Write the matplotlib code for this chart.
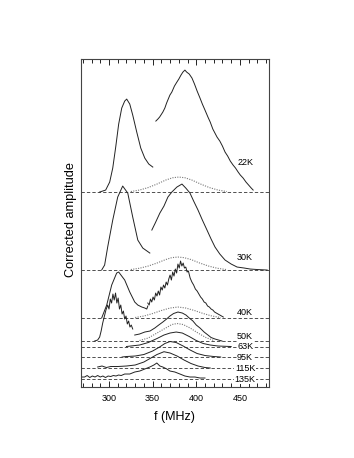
import numpy as np
import matplotlib
matplotlib.use("Agg")
import matplotlib.pyplot as plt

plt.rcParams['font.family'] = ['Liberation Sans', 'DejaVu Sans']

# temperature labels and baseline offsets (arbitrary units)
temps = ['22K', '30K', '40K', '50K', '63K', '95K', '115K', '135K']
offsets = [195, 117, 69, 46, 40.5, 30, 19, 8]

# 22K
f22a = [289.3, 296.2, 300.8, 304.3, 307.7, 311.1, 314.6, 318, 320.3, 323.8, 327.2, 331.8, 336.4, 341, 345.6, 350.2]
h22a = [0, 2, 10, 24, 45, 68, 84, 91, 93, 88, 77, 60, 44, 34, 28, 25]
f22b = [353.7, 356, 358, 361.7, 364, 366, 369.8, 372, 375, 377.8, 380, 382.5, 384.7, 387, 389, 392, 395.1, 398,
        401, 404.3, 407, 410, 413.4, 416, 419, 423.8, 427, 430, 433, 436, 439, 442.2, 445, 448, 450.5, 453.7,
        457, 460, 463, 465.2]
h22b = [71, 73, 75, 80, 84, 89, 97, 100, 106, 110, 113, 117, 120, 122, 120, 118, 114, 108, 101, 94, 88, 82,
        75, 70, 63, 55, 51, 46, 40, 36, 31, 27, 24, 20, 17, 14, 10, 7, 4, 2]
f22d = [325, 335, 345, 355, 365, 373, 380, 387, 395, 405, 415, 425, 435]
h22d = [0.5, 2, 4.5, 8, 12, 14.3, 15, 14.3, 12, 8, 4.5, 2, 0.5]

# 30K
f30a = [291.6, 295, 298.5, 304.3, 310, 315.7, 321.5, 327.2, 333, 338.7, 346.8]
h30a = [0, 5, 23, 50, 73, 84, 77, 53, 30, 22, 17]
f30b = [349.1, 353, 358.3, 363, 367.5, 372, 377.8, 383.6, 388, 392.8, 397, 402, 407, 412.3, 417, 421.5,
        427, 433, 440, 446.8, 455, 461.8, 470, 481.3]
h30b = [40, 47, 57, 64, 73, 78, 83, 86, 82, 77, 69, 60, 50, 40, 31, 23, 16, 10, 6, 3, 2, 1, 0.5, 0]
f30d = [325, 335, 345, 355, 365, 372, 379, 386, 394, 404, 414, 424, 434]
h30d = [0.5, 1.8, 4, 7, 10.5, 12.4, 13, 12.4, 10.5, 7, 4, 1.8, 0.5]

# 40K
f40a = [291.6, 297.4, 303.1, 308.8, 311.1, 318, 323.8, 329.5, 333, 337.6, 341, 343.3, 344.5]
h40a = [0, 13, 33, 45, 46, 38, 26, 16, 13, 11, 10, 9, 12]
f40b = [344.5, 346, 347.5, 349, 350.5, 352, 353.5, 355, 356.5, 358, 359.5, 361, 362.5, 364, 365.5, 367,
        368.5, 370, 371.5, 373, 374.5, 376, 377.5, 379, 380.5, 382, 383.5, 385, 386.5, 388, 389.5, 391, 393,
        395, 397, 399, 401, 403, 405, 407, 409, 411, 413, 415, 417, 419, 421, 423, 425, 427, 429, 431]
h40b = [15, 13, 19, 16, 21, 18, 25, 22, 27, 23, 31, 28, 33, 30, 36, 33, 39, 43, 38, 46, 42, 49, 45, 54, 50,
        57, 52, 55, 50, 51, 46, 47, 40, 36, 33, 29, 27, 24, 21, 19, 16, 15, 12, 11, 9, 8, 6, 5, 4, 3, 2, 1]
f40d = [330, 340, 350, 360, 370, 379, 388, 398, 408, 418, 428]
h40d = [0.5, 2, 4.5, 7.5, 10, 11, 10, 7.5, 4.5, 2, 0.5]

# 50K
f50a = [283.6, 287, 289.3, 291, 292.8, 294.5, 296.5, 298.5, 300, 301.5, 303, 304.5, 306, 307.5, 309, 310.5,
        312, 313.5, 315, 316.5, 318, 319.5, 321, 322.5, 324, 325.5, 327.2]
h50a = [0, 1, 4, 10, 18, 24, 31, 36, 32, 42, 38, 47, 41, 48, 38, 43, 32, 36, 27, 30, 22, 25, 17, 20, 14, 16, 12]
f50b = [329.5, 335, 341, 347, 352.5, 357, 361.7, 366, 369.8, 374, 379, 384, 388.2, 392, 396.2, 400, 404.3,
        409, 413.4, 417, 421.5, 429.5]
h50b = [6, 7, 9, 10, 13, 16, 19, 22, 25, 27.5, 29, 28, 26, 23, 20, 16, 13, 9, 6, 3.5, 2, 0]
f50d = [335, 345, 355, 365, 372, 378, 385, 393, 402, 411, 420]
h50d = [0.5, 3, 8, 13, 16.5, 17.5, 16.5, 13, 8, 3.5, 0.5]

# 63K - 135K
f63 = [320, 325, 335, 345, 355, 363, 370, 377, 384, 392, 400, 408, 416, 425, 440]
h63 = [0, 0.5, 1.5, 4, 8, 11.5, 13.5, 14.5, 13.5, 10, 6, 3, 1.5, 0.5, 0]
f95 = [315, 320, 330, 340, 350, 358, 364, 370, 377, 385, 393, 401, 410, 420, 428]
h95 = [0, 0.5, 1, 2.5, 6, 10, 13.5, 15.5, 14.5, 11, 7, 3.5, 1.5, 0.5, 0]
f115 = [287, 292, 297, 302, 310, 320, 330, 340, 348, 355, 363, 370, 378, 386, 394, 402, 410, 416]
h115 = [1, 2, 0.5, 1.5, 1.5, 2, 3, 6, 10, 13.5, 16.3, 15, 12, 8, 4.5, 2, 0.5, 0]
f135 = [269, 272, 275, 278, 281, 284, 287, 290, 293, 296, 299, 302, 305, 308, 311, 314, 318, 323.8, 329.5,
        335.3, 341, 346.8, 351.4, 354.8, 358.3, 361.7, 366.3, 369.8, 375.5, 381.3, 387, 392.8, 398.5, 404.3, 410]
h135 = [2, 2, 3.5, 1.5, 3, 2, 3.5, 2, 3, 1.5, 3, 2.5, 3.5, 3, 4, 3.5, 5, 5, 7, 8, 10, 12, 14, 16, 13, 12, 10,
        8, 7, 5, 3, 2, 2, 1, 1]

solid = {
    '22K': [(f22a, h22a), (f22b, h22b)],
    '30K': [(f30a, h30a), (f30b, h30b)],
    '40K': [(f40a, h40a), (f40b, h40b)],
    '50K': [(f50a, h50a), (f50b, h50b)],
    '63K': [(f63, h63)],
    '95K': [(f95, h95)],
    '115K': [(f115, h115)],
    '135K': [(f135, h135)],
}
dotted = {'22K': (f22d, h22d), '30K': (f30d, h30d), '40K': (f40d, h40d), '50K': (f50d, h50d)}

fig = plt.figure(figsize=(3.54, 4.58), dpi=100)
ax = fig.add_axes([0.229, 0.155, 0.53, 0.716])

xmin, xmax = 268, 483
for t, off in zip(temps, offsets):
    ax.plot([xmin, xmax], [off, off], color='#333333', lw=0.6, dashes=(4, 2.5))
    for f, h in solid[t]:
        ax.plot(f, np.array(h) + off, color='#222222', lw=0.7)
    if t in dotted:
        f, h = dotted[t]
        ax.plot(f, np.array(h) + off, color='#777777', lw=0.8, ls=(0, (1, 1.2)))

# temperature labels
label_y = [225, 130, 75, 51, 41, 30, 19, 8]
for i, (t, y) in enumerate(zip(temps, label_y)):
    if i < 4:
        ax.text(456, y, t, fontsize=6.5, ha='center', va='center')
    else:
        ax.text(456, y, t, fontsize=6.5, ha='center', va='center',
                bbox=dict(facecolor='white', edgecolor='none', pad=0.3))

ax.set_xlim(xmin, xmax)
ax.set_ylim(0, 328)
ax.set_xticks([300, 350, 400, 450])
ax.set_xticks(np.arange(270, 481, 10), minor=True)
ax.set_yticks([])
ax.tick_params(axis='x', which='both', direction='in', top=True, labelsize=6.5, pad=5)
ax.tick_params(axis='x', which='major', length=4, width=0.6)
ax.tick_params(axis='x', which='minor', length=3, width=0.6)
for s in ax.spines.values():
    s.set_linewidth(0.8)
    s.set_color('#444444')

ax.set_xlabel('f (MHz)', fontsize=9, labelpad=6)
ax.set_ylabel('Corrected amplitude', fontsize=9.2)
ax.yaxis.set_label_coords(-0.022, 0.51)

fig.savefig('out.png', dpi=100)
